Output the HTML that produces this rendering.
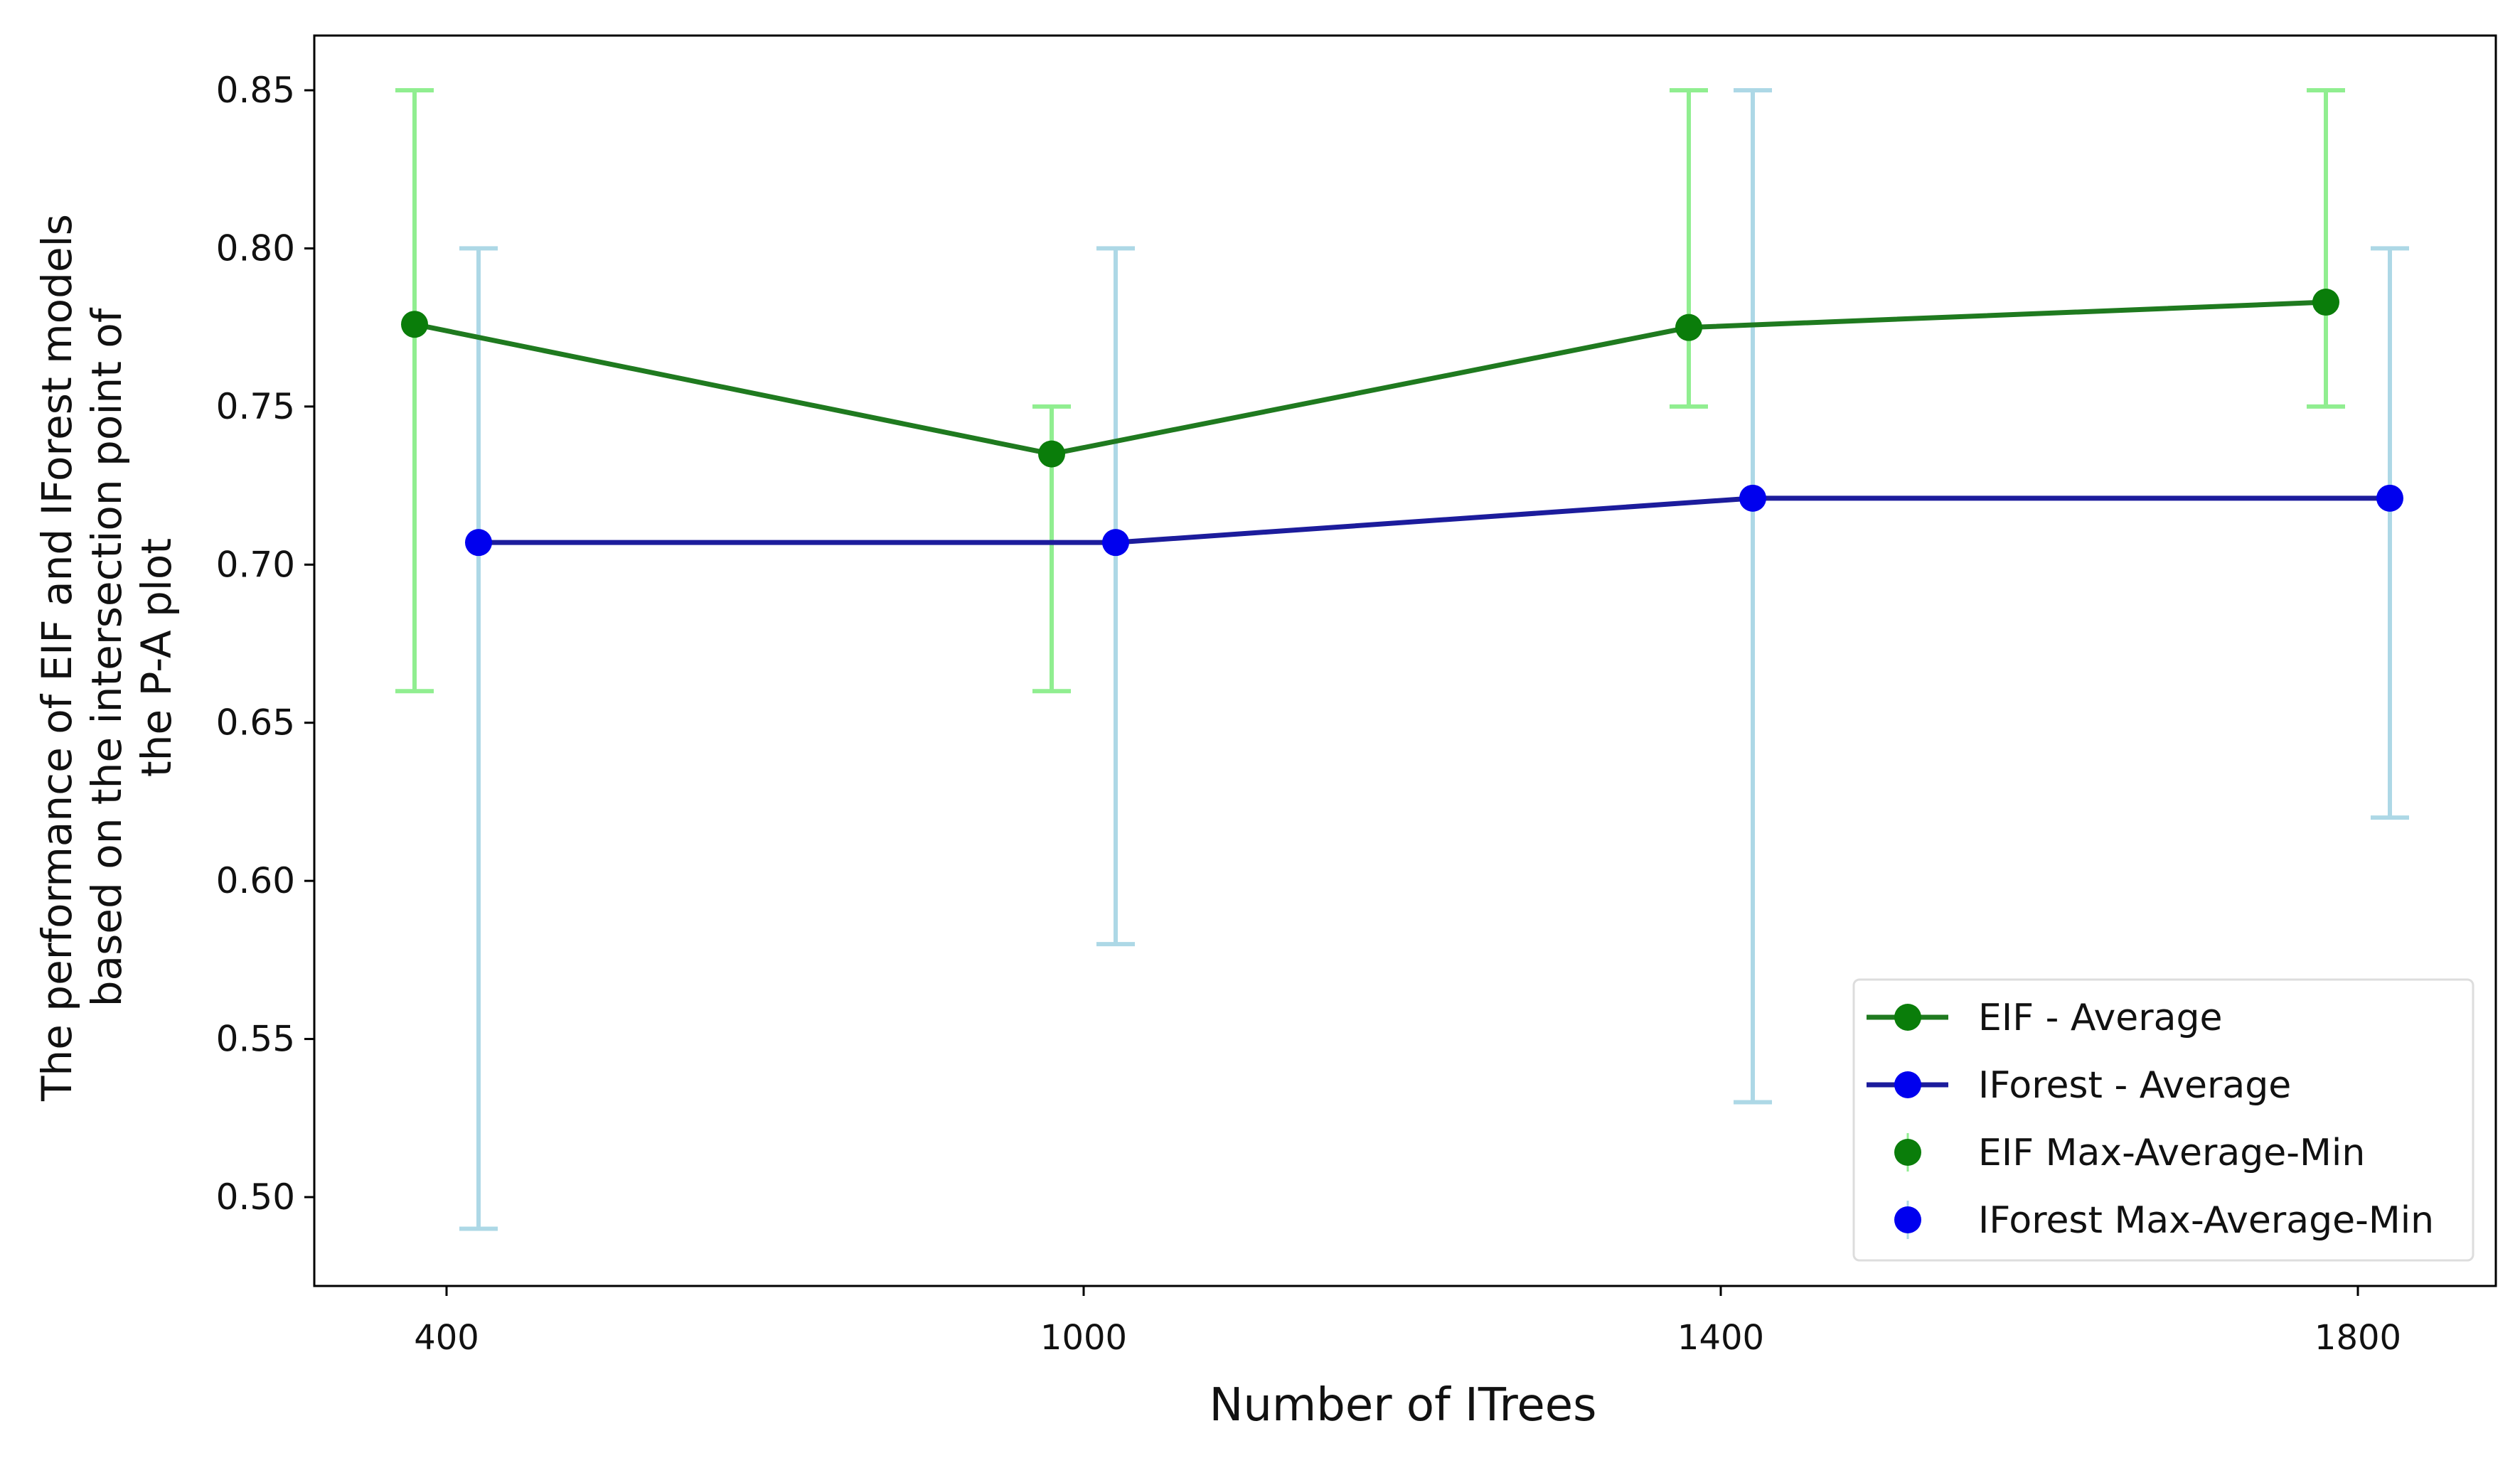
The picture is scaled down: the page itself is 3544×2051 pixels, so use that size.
<!DOCTYPE html>
<html><head><meta charset="utf-8"><style>
html,body{margin:0;padding:0;background:#fff;}
svg{display:block;font-family:"DejaVu Sans","Liberation Sans",sans-serif;}
</style></head><body>
<svg id="chart" width="3544" height="2051" viewBox="0 0 3544 2051">
<rect x="0" y="0" width="3544" height="2051" fill="#fff"/>
<g id="plot"></g>
<rect x="442" y="50" width="3068" height="1759" fill="none" stroke="#000" stroke-width="3"/>
<text x="1973" y="1998" font-size="64" text-anchor="middle" fill="#111">Number of ITrees</text>
<g transform="translate(152,925) rotate(-90)">
<text x="0" y="-52" font-size="58" text-anchor="middle" fill="#111">The performance of EIF and IForest models</text>
<text x="0" y="18" font-size="58" text-anchor="middle" fill="#111">based on the intersection point of</text>
<text x="0" y="88" font-size="58" text-anchor="middle" fill="#111">the P-A plot</text>
</g>
<g>
<rect x="2607" y="1378" width="871" height="395" rx="8" fill="#fff" stroke="#ddd" stroke-width="3"/>
<g>
<line x1="2625" y1="1431" x2="2740" y2="1431" stroke="#1f7a1f" stroke-width="7"/>
<circle cx="2683" cy="1431" r="19" fill="#0a7d0a"/>
<text x="2782" y="1449" font-size="52" fill="#111">EIF - Average</text></g>
<g>
<line x1="2625" y1="1526" x2="2740" y2="1526" stroke="#1c1c9c" stroke-width="7"/>
<circle cx="2683" cy="1526" r="19" fill="#0000ee"/>
<text x="2782" y="1544" font-size="52" fill="#111">IForest - Average</text></g>
<g>
<line x1="2683" y1="1594" x2="2683" y2="1648" stroke="#90ee90" stroke-width="3"/>
<circle cx="2683" cy="1621" r="19" fill="#0a7d0a"/>
<text x="2782" y="1639" font-size="52" fill="#111">EIF Max-Average-Min</text></g>
<g>
<line x1="2683" y1="1689" x2="2683" y2="1743" stroke="#add8e6" stroke-width="3"/>
<circle cx="2683" cy="1716" r="19" fill="#0000ee"/>
<text x="2782" y="1734" font-size="52" fill="#111">IForest Max-Average-Min</text></g>
</g>
</svg>
<script>
const categories = ["400","1000","1400","1800"];
const eifAvg = [0.776, 0.735, 0.775, 0.783];
const eifMax = [0.85, 0.75, 0.85, 0.85];
const eifMin = [0.66, 0.66, 0.75, 0.75];
const ifAvg = [0.707, 0.707, 0.721, 0.721];
const ifMax = [0.80, 0.80, 0.85, 0.80];
const ifMin = [0.49, 0.58, 0.53, 0.62];
const yTicks = [0.50, 0.55, 0.60, 0.65, 0.70, 0.75, 0.80, 0.85];

const NS = "http://www.w3.org/2000/svg";
const plot = document.getElementById("plot");
const svg = document.getElementById("chart");
function yScale(v){ return 1684 + (v - 0.50) * (127 - 1684) / 0.35; }
function xScale(i){ return 628 + i * 896; }
function mk(tag, attrs, parent){
  const e = document.createElementNS(NS, tag);
  for (const k in attrs) e.setAttribute(k, attrs[k]);
  (parent || plot).appendChild(e);
  return e;
}
yTicks.forEach(t => {
  const y = yScale(t);
  const tk = mk("line", {x1:428, x2:442, y1:y, y2:y, stroke:"#000", "stroke-width":3}, svg);
  
  
  const lb = mk("text", {x:415, y:y+17, "font-size":50, "text-anchor":"end", fill:"#111"}, svg);
  
  
  lb.textContent = t.toFixed(2);
});
categories.forEach((c, i) => {
  const x = xScale(i);
  const tk = mk("line", {x1:x, x2:x, y1:1809, y2:1823, stroke:"#000", "stroke-width":3}, svg);
  
  
  const lb = mk("text", {x:x, y:1898, "font-size":48, "text-anchor":"middle", fill:"#111"}, svg);
  
  
  lb.textContent = c;
});
function errBars(avg, mx, mn, off, color, name){
  avg.forEach((a, i) => {
    const x = xScale(i) + off;
    const g = mk("g", {});
    
    
    mk("line", {x1:x, x2:x, y1:yScale(mx[i]), y2:yScale(mn[i]), stroke:color, "stroke-width":6}, g);
    mk("line", {x1:x-27, x2:x+27, y1:yScale(mx[i]), y2:yScale(mx[i]), stroke:color, "stroke-width":6}, g);
    mk("line", {x1:x-27, x2:x+27, y1:yScale(mn[i]), y2:yScale(mn[i]), stroke:color, "stroke-width":6}, g);
  });
}
function series(avg, off, lineColor, dotColor, name){
  const pts = avg.map((a, i) => (xScale(i)+off) + "," + yScale(a)).join(" ");
  const pl = mk("polyline", {points:pts, fill:"none", stroke:lineColor, "stroke-width":7});
  
  
  avg.forEach((a, i) => {
    const c = mk("circle", {cx:xScale(i)+off, cy:yScale(a), r:19, fill:dotColor});
    
    
  });
}
errBars(eifAvg, eifMax, eifMin, -45, "#90ee90", "eif");
errBars(ifAvg, ifMax, ifMin, 45, "#add8e6", "iforest");
series(eifAvg, -45, "#1f7a1f", "#0a7d0a", "eif");
series(ifAvg, 45, "#1c1c9c", "#0000ee", "iforest");
</script>
</body></html>
